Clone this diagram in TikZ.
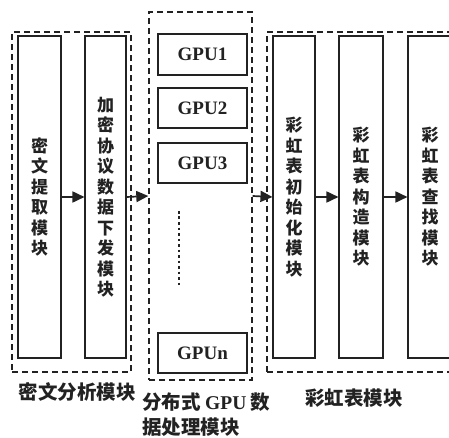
\documentclass[tikz,border=0pt]{standalone}
\usepackage{fontspec}
\setmainfont{Liberation Serif}
\newfontfamily\cjk{Noto Sans CJK SC}
\usetikzlibrary{arrows.meta}
\definecolor{ink}{HTML}{222222}
\tikzset{
  box/.style={draw=ink, line width=1.1pt, inner sep=0pt},
  vbox/.style={box, minimum width=42pt, minimum height=322pt, align=center,
     font=\cjk\bfseries\fontsize{17}{20.5}\selectfont, text=ink},
  gpubox/.style={box, minimum width=89pt, minimum height=40pt,
     font=\bfseries\fontsize{19}{20}\selectfont, text=ink},
  grp/.style={draw=ink, line width=1.4pt, dash pattern=on 6pt off 4pt, inner sep=0pt},
  arr/.style={draw=ink, line width=1.7pt, -{Triangle[length=12pt,width=11pt]}},
  lbl/.style={font=\cjk\bfseries\fontsize{19.5}{25}\selectfont, text=ink, inner sep=0pt},
}
\begin{document}
\begin{tikzpicture}[x=1pt,y=-1pt]
\clip (0,0) rectangle (449,438);
\fill[white] (0,0) rectangle (449,438);
% groups
\node[grp, minimum width=119pt, minimum height=340pt] (g1) at (71.5,202) {};
\node[grp, minimum width=103pt, minimum height=368pt] (g2) at (200.5,196) {};
\node[grp, minimum width=193pt, minimum height=340pt] (g3) at (363.5,202) {};
% left modules
\node[vbox, minimum width=43pt] (b1) at (39.5,197) {密\\文\\提\\取\\模\\块};
\node[vbox, minimum width=41pt] (b2) at (105.5,197) {加\\密\\协\\议\\数\\据\\下\\发\\模\\块};
% gpu
\node[gpubox, minimum height=41pt] (p1) at (202.5,54.5) {GPU1};
\node[gpubox] (p2) at (202.5,108) {GPU2};
\node[gpubox] (p3) at (202.5,163) {GPU3};
\node[gpubox] (pn) at (202.5,353) {GPUn};
\coordinate (d1) at (179,211);
\coordinate (d2) at (179,287);
\draw[ink, line width=2.8pt, dash pattern=on 2.8pt off 2.7pt] (d1) -- (d2);
% rainbow modules
\node[vbox] (ra) at (294,197) {彩\\虹\\表\\初\\始\\化\\模\\块};
\node[vbox, minimum width=44pt] (rb) at (361,197) {彩\\虹\\表\\构\\造\\模\\块};
\node[vbox, minimum width=44pt] (rc) at (430,197) {彩\\虹\\表\\查\\找\\模\\块};
% arrows
\draw[arr] (b1.east) -- (b2.west);
\draw[arr] (b2.east) -- (g2.west);
\draw[arr] (g2.east) -- (ra.west);
\draw[arr] (ra.east) -- (rb.west);
\draw[arr] (rb.east) -- (rc.west);
% labels
\node[lbl] (l1) at (77,392) {密文分析模块};
\node[lbl, anchor=west, align=left] (l2) at (142,414.5) {分布式 {\rmfamily GPU} 数\\据处理模块};
\node[lbl] (l3) at (354,398) {彩虹表模块};
\end{tikzpicture}
\end{document}
